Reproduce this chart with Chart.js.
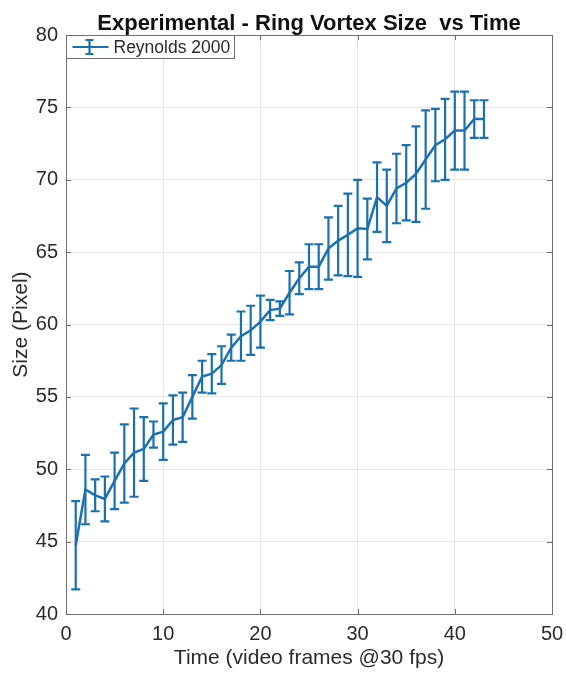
<!DOCTYPE html>
<html>
<head>
<meta charset="utf-8">
<title>Experimental - Ring Vortex Size vs Time</title>
<script src="https://cdn.jsdelivr.net/npm/chart.js@4.4.1/dist/chart.umd.min.js"></script>
<style>
    html, body { margin: 0; padding: 0; background: #fff; }
</style>
</head>
<body>
<canvas id="vortexChart" width="566" height="677"></canvas>
<script>
// Frames 1..43, mean vortex size and error bar half-length (pixels)
const frames = [1, 2, 3, 4, 5, 6, 7, 8, 9, 10, 11, 12, 13, 14, 15, 16, 17, 18, 19, 20, 21,
    22, 23, 24, 25, 26, 27, 28, 29, 30, 31, 32, 33, 34, 35, 36, 37, 38, 39, 40, 41, 42, 43];
const sizeMean = [44.75, 48.6, 48.2, 47.95, 49.2, 50.4, 51.15, 51.4, 52.4, 52.6, 53.4,
    53.6, 55.0, 56.4, 56.6, 57.2, 58.4, 59.2, 59.6, 60.2, 61.0, 61.1, 62.2, 63.2, 64.0,
    64.0, 65.25, 65.8, 66.2, 66.65, 66.6, 68.8, 68.2, 69.4, 69.8, 70.4, 71.4, 72.4, 72.8,
    73.4, 73.4, 74.2, 74.2];
const sizeErr = [3.05, 2.4, 1.1, 1.55, 1.95, 2.7, 3.05, 2.2, 0.9, 1.95, 1.7, 1.7, 1.5,
    1.1, 1.35, 1.3, 0.9, 1.7, 1.7, 1.8, 0.7, 0.5, 1.5, 1.1, 1.55, 1.55, 2.15, 2.4, 2.85,
    3.35, 2.1, 2.4, 2.5, 2.4, 2.6, 3.3, 3.4, 2.5, 2.8, 2.7, 2.7, 1.3, 1.3];
const xRange = [0, 50];
const yRange = [40, 80];
const seriesName = 'Reynolds 2000';

const lineColor = '#1b71b0';
const textColor = '#2b2b2b';
const boxColor = '#6f6f6f';
const fontFamily = '"Liberation Sans", Arial, Helvetica, sans-serif';

function drawErrorBar(ctx, px, top, bot, half) {
    ctx.beginPath();
    ctx.moveTo(px, top); ctx.lineTo(px, bot);
    ctx.moveTo(px - half, top); ctx.lineTo(px + half, top);
    ctx.moveTo(px - half, bot); ctx.lineTo(px + half, bot);
    ctx.stroke();
}

const errorBars = {
    id: 'errorBars',
    afterDatasetsDraw(chart) {
        const { ctx, scales: { x, y } } = chart;
        ctx.save();
        ctx.strokeStyle = lineColor;
        ctx.lineWidth = 2.2;
        frames.forEach((f, i) => {
            drawErrorBar(ctx, x.getPixelForValue(f),
                y.getPixelForValue(sizeMean[i] + sizeErr[i]),
                y.getPixelForValue(sizeMean[i] - sizeErr[i]), 4.5);
        });
        ctx.restore();
    }
};

// axes box with inward ticks, plus the boxed legend in the top-left corner
const axesBox = {
    id: 'axesBox',
    afterDraw(chart) {
        const { ctx, chartArea: a, scales: { x, y } } = chart;
        ctx.save();
        ctx.strokeStyle = boxColor;
        ctx.lineWidth = 1;
        ctx.beginPath();
        x.ticks.forEach(t => {
            const px = Math.round(x.getPixelForValue(t.value)) + 0.5;
            ctx.moveTo(px, a.bottom); ctx.lineTo(px, a.bottom - 5);
            ctx.moveTo(px, a.top); ctx.lineTo(px, a.top + 5);
        });
        y.ticks.forEach(t => {
            const py = Math.round(y.getPixelForValue(t.value)) + 0.5;
            ctx.moveTo(a.left, py); ctx.lineTo(a.left + 5, py);
            ctx.moveTo(a.right, py); ctx.lineTo(a.right - 5, py);
        });
        ctx.stroke();
        ctx.strokeRect(Math.round(a.left) + 0.5, Math.round(a.top) + 0.5,
            Math.round(a.right - a.left), Math.round(a.bottom - a.top));

        // legend
        ctx.font = '17.5px ' + fontFamily;
        const tw = ctx.measureText(seriesName).width;
        const l = Math.round(a.left) + 0.5, t = Math.round(a.top) + 0.5;
        const w = Math.round(47 + tw + 4), h = 23;
        ctx.fillStyle = '#fff';
        ctx.fillRect(l, t, w, h);
        ctx.strokeStyle = boxColor;
        ctx.strokeRect(l, t, w, h);
        const cy = t + h / 2;
        ctx.strokeStyle = lineColor;
        ctx.lineWidth = 2.2;
        ctx.beginPath();
        ctx.moveTo(l + 6, cy); ctx.lineTo(l + 42, cy);
        ctx.stroke();
        drawErrorBar(ctx, l + 23, cy - 7, cy + 7, 4);
        ctx.fillStyle = textColor;
        ctx.textBaseline = 'middle';
        ctx.textAlign = 'left';
        ctx.fillText(seriesName, l + 47, cy + 1);
        ctx.restore();
    }
};

new Chart(document.getElementById('vortexChart'), {
    type: 'line',
    data: {
        datasets: [{
            label: seriesName,
            data: frames.map((f, i) => ({ x: f, y: sizeMean[i] })),
            borderColor: lineColor,
            backgroundColor: lineColor,
            borderWidth: 2.5,
            pointRadius: 0,
            tension: 0
        }]
    },
    options: {
        responsive: false,
        devicePixelRatio: 1,
        animation: false,
        layout: { padding: { left: 0, right: 14, top: 0, bottom: 0 } },
        plugins: {
            title: {
                display: true,
                text: 'Experimental - Ring Vortex Size  vs Time',
                fullSize: false,
                color: '#111',
                font: { family: fontFamily, size: 22, weight: 'bold', lineHeight: 1.05 },
                padding: { top: 12, bottom: 0 }
            },
            legend: { display: false },
            tooltip: { enabled: false }
        },
        scales: {
            x: {
                type: 'linear',
                min: xRange[0],
                max: xRange[1],
                afterFit: s => { s.height = 63; s.paddingRight = 0; s.paddingLeft = 0; },
                border: { display: false },
                grid: { color: '#e6e6e6', drawTicks: false },
                ticks: {
                    stepSize: 10,
                    padding: 8,
                    color: textColor,
                    font: { family: fontFamily, size: 20 }
                },
                title: {
                    display: true,
                    text: 'Time (video frames @30 fps)',
                    color: textColor,
                    padding: 6,
                    font: { family: fontFamily, size: 21 }
                }
            },
            y: {
                min: yRange[0],
                max: yRange[1],
                afterFit: s => { s.width = 66; },
                border: { display: false },
                grid: { color: '#e6e6e6', drawTicks: false },
                ticks: {
                    stepSize: 5,
                    padding: 8,
                    color: textColor,
                    font: { family: fontFamily, size: 20 }
                },
                title: {
                    display: true,
                    text: 'Size (Pixel)',
                    color: textColor,
                    padding: 9,
                    font: { family: fontFamily, size: 21 }
                }
            }
        }
    },
    plugins: [errorBars, axesBox]
});
</script>
</body>
</html>
